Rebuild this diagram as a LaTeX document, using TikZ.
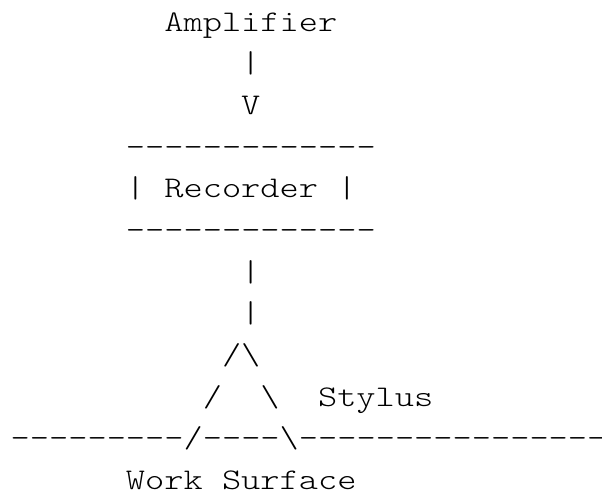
\documentclass[tikz,border=0pt]{standalone}
\usepackage{fontspec}
\setmonofont{Latin Modern Mono Light}[FakeStretch=1.22]
\begin{document}
\begin{tikzpicture}[x=19.21pt, y=-41.67pt,
  asc/.style={font=\ttfamily\fontsize{30}{30}\selectfont, inner sep=0pt, outer sep=0pt, anchor=base west, text=black}]
  \path[use as bounding box, fill=white] (-10.7pt,31pt) rectangle ++(602pt,-496pt);
  % line 0
  \node[asc] (amp) at (8,0) {Amplifier};
  % lines 1-2: arrow down
  \node[asc] (pipeA) at (12,1) {|};
  \node[asc] (vhead) at (12,2) {V};
  % recorder box
  \node[asc] (boxtop) at (6,3) {-------------};
  \node[asc] (boxl) at (6,4) {|};
  \node[asc] (rec) at (8,4) {Recorder};
  \node[asc] (boxr) at (17,4) {|};
  \node[asc] (boxbot) at (6,5) {-------------};
  % stem
  \node[asc] (pipeB) at (12,6) {|};
  \node[asc] (pipeC) at (12,7) {|};
  % stylus
  \node[asc] (tipl) at (11,8) {/};
  \node[asc] (tipr) at (12,8) {\textbackslash};
  \node[asc] (legl) at (10,9) {/};
  \node[asc] (legr) at (13,9) {\textbackslash};
  \node[asc] (sty) at (16,9) {Stylus};
  % work surface line
  \node[asc] (surf) at (0,10) {---------/----\textbackslash----------------};
  \node[asc] (work) at (6,11) {Work};
  \node[asc] (surface) at (11,11) {Surface};
\end{tikzpicture}
\end{document}
